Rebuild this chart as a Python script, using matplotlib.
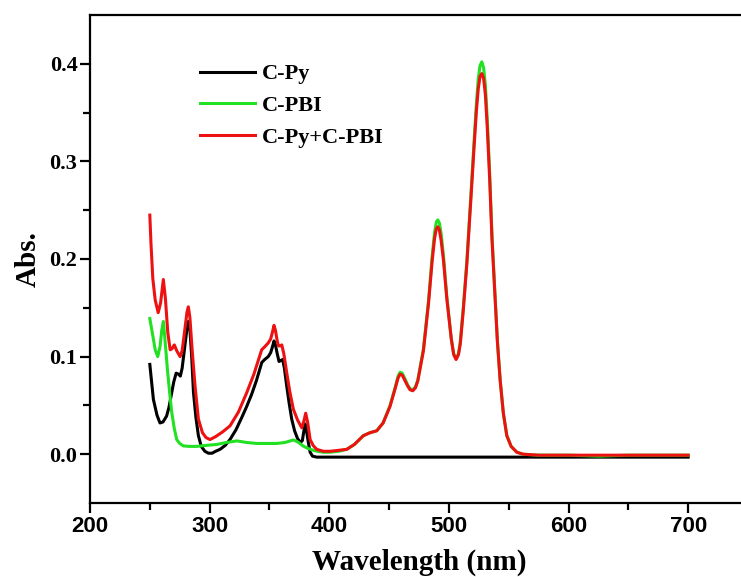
import matplotlib.pyplot as plt

# wavelength (nm) / absorbance
wl_py = [250, 251, 253, 256, 258.5, 261, 264, 266, 268.3, 270, 272, 274, 275.5, 277, 279, 281, 282.2,
         283.5, 285, 286.5, 288.5, 290.6, 293, 296, 299, 302, 305, 308.7, 313, 317, 322, 327, 331,
         335, 339, 343.6, 346, 349, 351, 352.5, 353.8, 355, 356.5, 358, 359.5, 361, 362.5, 364.4,
         366.5, 368.6, 371, 373.5, 376, 377.5, 378.8, 379.8, 381, 382.5, 384, 386, 389.5, 395, 420,
         450, 480, 520, 560, 600, 650, 700]
abs_py = [0.092, 0.080, 0.056, 0.040, 0.032, 0.033, 0.039, 0.048, 0.063, 0.074, 0.083, 0.082, 0.080,
          0.088, 0.108, 0.128, 0.136, 0.128, 0.100, 0.063, 0.038, 0.019, 0.008, 0.003, 0.001, 0.001,
          0.003, 0.005, 0.009, 0.015, 0.025, 0.038, 0.049, 0.061, 0.075, 0.094, 0.097, 0.100, 0.104,
          0.110, 0.116, 0.112, 0.103, 0.095, 0.096, 0.097, 0.088, 0.070, 0.052, 0.036, 0.024, 0.016,
          0.012, 0.014, 0.024, 0.031, 0.024, 0.012, 0.002, -0.002, -0.003, -0.003, -0.003, -0.003,
          -0.003, -0.003, -0.003, -0.003, -0.003, -0.003]

wl_pbi = [250, 252, 254.5, 256.6, 258.5, 260, 261.3, 262.5, 264.7, 266.5, 268.3, 270.5, 272.5, 275,
          278, 283, 289, 297, 306, 314, 322.7, 331, 339.4, 348, 356, 363, 367, 370, 373, 375.5, 378,
          382, 386.7, 390, 395, 400, 408, 414.6, 421, 428.5, 434, 439.7, 445, 450.8, 455, 457.5,
          459.2, 461, 463, 465.5, 467.5, 469.8, 472, 474, 478.7, 483, 486, 488, 489.5, 490.7, 492,
          493.5, 495.5, 498.2, 502, 504, 506, 508, 509.5, 512, 515, 518.5, 521, 523, 524.5, 526,
          527.5, 529, 530.5, 532, 534, 536, 538.6, 540.5, 542.8, 545.5, 548.4, 552, 556.8, 562,
          575, 600, 625, 650, 675, 700]
abs_pbi = [0.139, 0.125, 0.107, 0.100, 0.110, 0.127, 0.136, 0.120, 0.087, 0.064, 0.043, 0.026, 0.015,
           0.011, 0.0085, 0.008, 0.008, 0.009, 0.010, 0.012, 0.0136, 0.012, 0.011, 0.011, 0.011,
           0.012, 0.0135, 0.0146, 0.013, 0.011, 0.0085, 0.006, 0.004, 0.003, 0.002, 0.002, 0.003,
           0.005, 0.010, 0.019, 0.022, 0.024, 0.032, 0.050, 0.068, 0.080, 0.084, 0.083, 0.078,
           0.071, 0.067, 0.066, 0.069, 0.076, 0.108, 0.158, 0.203, 0.227, 0.238, 0.240, 0.237,
           0.226, 0.203, 0.162, 0.118, 0.103, 0.098, 0.103, 0.115, 0.150, 0.198, 0.268, 0.320,
           0.360, 0.384, 0.398, 0.402, 0.396, 0.378, 0.345, 0.290, 0.225, 0.162, 0.117, 0.077,
           0.042, 0.019, 0.008, 0.002, 0.000, -0.001, -0.001, -0.002, -0.001, -0.001, -0.001]

wl_mix = [250, 251, 252.5, 254.5, 257, 259, 261.3, 263, 265, 267, 268.5, 270.5, 272.5, 275.3, 277,
          279, 281, 282.2, 283.5, 285.5, 287.8, 290.6, 294, 297, 300.3, 305, 311, 317, 324, 331,
          337, 343.5, 346, 349, 351, 352.5, 353.8, 355, 356.5, 357.5, 359, 360.3, 362, 364.5, 367,
          370, 373.5, 377, 378.8, 380.3, 382, 384, 386.5, 389.5, 395, 400.7, 408, 414.6, 421,
          428.5, 434, 439.7, 445, 450.8, 455, 457.5, 459.2, 461, 463, 465.5, 467.5, 469.8, 472,
          474, 478.7, 483, 486, 488, 489.5, 490.7, 492, 493.5, 495.5, 498.2, 502, 504, 506, 508,
          509.5, 512, 515, 518.5, 521, 523, 524.5, 526, 527.5, 529, 530.5, 532, 534, 536, 538.6,
          540.5, 542.8, 545.5, 548.4, 552, 556.8, 562, 575, 600, 625, 650, 675, 700]
abs_mix = [0.245, 0.215, 0.180, 0.158, 0.145, 0.155, 0.179, 0.160, 0.125, 0.107, 0.108, 0.112, 0.106,
           0.100, 0.106, 0.125, 0.145, 0.151, 0.140, 0.105, 0.070, 0.036, 0.022, 0.017, 0.015,
           0.018, 0.023, 0.029, 0.043, 0.063, 0.082, 0.107, 0.110, 0.114, 0.118, 0.125, 0.132,
           0.127, 0.116, 0.111, 0.111, 0.112, 0.103, 0.083, 0.064, 0.046, 0.035, 0.027, 0.034,
           0.042, 0.032, 0.015, 0.009, 0.005, 0.003, 0.003, 0.004, 0.005, 0.010, 0.019, 0.022,
           0.024, 0.032, 0.049, 0.067, 0.078, 0.082, 0.081, 0.076, 0.070, 0.066, 0.065, 0.068,
           0.075, 0.106, 0.155, 0.198, 0.221, 0.231, 0.233, 0.230, 0.219, 0.198, 0.160, 0.118,
           0.102, 0.097, 0.102, 0.113, 0.147, 0.195, 0.264, 0.314, 0.352, 0.374, 0.387, 0.390,
           0.385, 0.368, 0.336, 0.284, 0.220, 0.160, 0.116, 0.076, 0.042, 0.019, 0.008, 0.002,
           0.000, -0.001, -0.001, -0.001, -0.001, -0.001, -0.001]

labels = ["C-Py", "C-PBI", "C-Py+C-PBI"]
colors = ["#000000", "#22e022", "#ee1111"]

serif = "Liberation Serif"
sans = "Liberation Sans"

fig = plt.figure(figsize=(7.41, 5.77), dpi=100)
ax = fig.add_axes([90 / 741, 74 / 577, 658 / 741, 488 / 577])

ax.plot(wl_py, abs_py, color=colors[0], lw=2.2, label=labels[0])
ax.plot(wl_pbi, abs_pbi, color=colors[1], lw=2.2, label=labels[1])
ax.plot(wl_mix, abs_mix, color=colors[2], lw=2.2, label=labels[2])

ax.set_xlim(200, 750)
ax.set_ylim(-0.05, 0.45)
ax.set_xticks([200, 300, 400, 500, 600, 700])
ax.set_xticks([250, 350, 450, 550, 650], minor=True)
ax.set_yticks([0.0, 0.1, 0.2, 0.3, 0.4])
ax.set_yticks([0.05, 0.15, 0.25, 0.35], minor=True)
ax.set_yticklabels(["0.0", "0.1", "0.2", "0.3", "0.4"])

for s in ax.spines.values():
    s.set_linewidth(1.6)
ax.tick_params(which="major", direction="out", length=7, width=1.6, pad=2)
ax.tick_params(which="minor", direction="out", length=5, width=1.6)
for t in ax.get_xticklabels():
    t.set_fontfamily(sans)
    t.set_fontweight("bold")
    t.set_fontsize(16)
for t in ax.get_yticklabels():
    t.set_fontfamily(serif)
    t.set_fontweight("bold")
    t.set_fontsize(16)

ax.set_xlabel("Wavelength (nm)", fontfamily=serif, fontweight="bold", fontsize=21, labelpad=9)
ax.set_ylabel("Abs.", fontfamily=serif, fontweight="bold", fontsize=21, labelpad=6)

ax.legend(loc="upper left", bbox_to_anchor=(0.167, 0.9), frameon=False,
          prop={"family": serif, "weight": "bold", "size": 16},
          borderaxespad=0, borderpad=0, handlelength=2.5, handletextpad=0.3,
          labelspacing=0.5)

fig.savefig("out.png", dpi=100)
